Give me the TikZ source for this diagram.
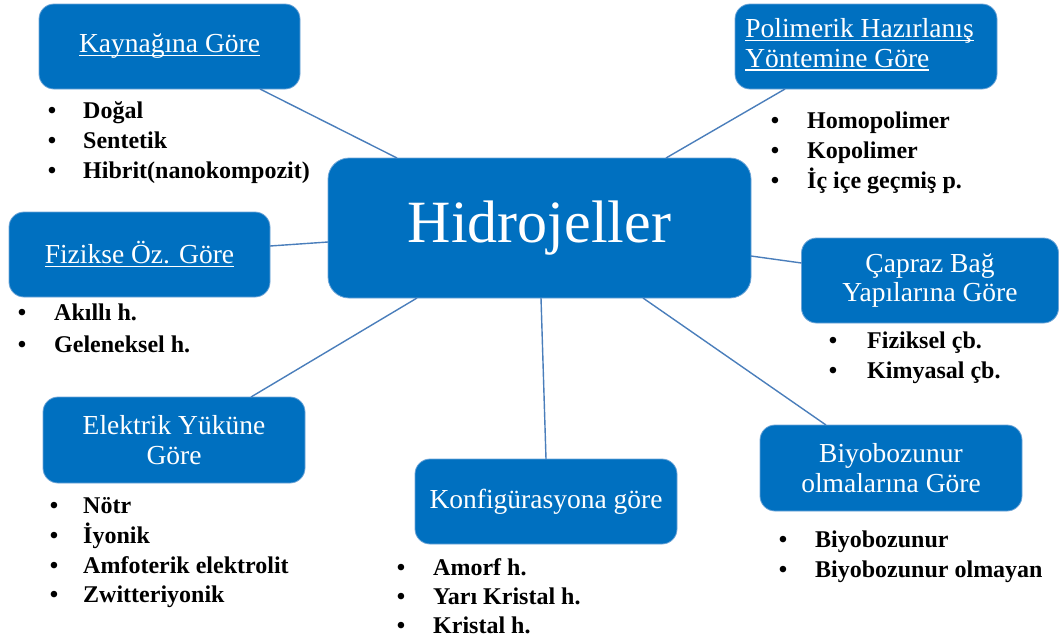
\documentclass[tikz,border=0pt]{standalone}
\usepackage{fontspec}
\setmainfont{Liberation Serif}
\definecolor{boxblue}{RGB}{0,112,192}
\definecolor{boxedge}{RGB}{110,165,215}
\definecolor{linkblue}{RGB}{74,126,187}
\newcommand\myul[1]{\setbox0\hbox{#1}\rlap{\rule[-3.5pt]{\wd0}{1.2pt}}\box0}
\newcommand\itm[5]{\node[itemtxt] (#1) at (#3,#4) {#5};\node[bullettxt] (#1b) at (#2,#4) {•};}
\tikzset{
  catbox/.style={rounded corners=15pt, fill=boxblue, draw=boxedge, line width=0.8pt,
    minimum width=261pt, minimum height=85pt, inner sep=0pt, outer sep=0pt,
    text=white, align=center, font=\fontsize{27.5}{29.5}\selectfont},
  conn/.style={draw=linkblue, line width=1.4pt},
  itemtxt/.style={anchor=base west, inner sep=0pt, font=\fontsize{24}{30}\selectfont\bfseries},
  bullettxt/.style={anchor=base, inner sep=0pt, font=\fontsize{24}{30}\selectfont\bfseries},
}
\begin{document}
\begin{tikzpicture}[x=1pt,y=-1pt]
\useasboundingbox (0,0) rectangle (1059,641);
% central
\node[catbox, rounded corners=21pt, minimum width=423pt, minimum height=140pt,
  font=\fontsize{60}{60}\selectfont] (hid) at (539.5,228) {Hidrojeller};
% categories
\node[catbox] (kay) at (169.5,46.5) {\myul{Kaynağına Göre}};
\node[catbox, minimum width=262pt] (pol) at (866,46.5)
  {\begin{tabular}{@{}l@{}}\myul{Polimerik Hazırlanış}\\\myul{Yöntemine Göre}\end{tabular}\hspace*{13pt}};
\node[catbox] (fiz) at (139.5,254.5) {\myul{Fizikse Öz. Göre}};
\node[catbox, minimum width=257pt] (cap) at (930,280.5) {Çapraz Bağ\\Yapılarına Göre};
\node[catbox, minimum width=262pt, minimum height=86pt] (biy) at (891,468) {Biyobozunur\\olmalarına Göre};
\node[catbox, minimum width=262pt, minimum height=86pt] (ele) at (174,440) {Elektrik Yüküne\\Göre};
\node[catbox, minimum width=262pt] (kon) at (546,501.5) {Konfigürasyona göre};
% connectors
\draw[conn] ([xshift=90.5pt]kay.south) -- ([xshift=-142.5pt]hid.north);
\draw[conn] ([xshift=-81pt]pol.south) -- ([xshift=126.5pt]hid.north);
\draw[conn] ([yshift=8.5pt]fiz.east) -- ([yshift=-14pt]hid.west);
\draw[conn] ([xshift=77pt]ele.north) -- ([xshift=-122.5pt]hid.south);
\draw[conn] (kon.north) -- ([xshift=1.5pt]hid.south);
\draw[conn] ([yshift=17.5pt]cap.west) -- ([yshift=-28pt]hid.east);
\draw[conn] ([xshift=-65pt]biy.north) -- ([xshift=103.5pt]hid.south);
% lists
\itm{k1}{52}{83}{118}{Doğal}
\itm{k2}{52}{83}{148}{Sentetik}
\itm{k3}{52}{83}{178}{Hibrit(nanokompozit)}
\itm{p1}{775}{807}{128}{Homopolimer}
\itm{p2}{775}{807}{158}{Kopolimer}
\itm{p3}{775}{807}{188}{İç içe geçmiş p.}
\itm{f1}{22}{54}{320}{Akıllı h.}
\itm{f2}{22}{54}{352}{Geleneksel h.}
\itm{c1}{833}{867}{348}{Fiziksel çb.}
\itm{c2}{833}{867}{378}{Kimyasal çb.}
\itm{b1}{783}{815}{547}{Biyobozunur}
\itm{b2}{783}{815}{577}{Biyobozunur olmayan}
\itm{e1}{54}{83}{513}{Nötr}
\itm{e2}{54}{83}{543}{İyonik}
\itm{e3}{54}{83}{573}{Amfoterik elektrolit}
\itm{e4}{54}{83}{602}{Zwitteriyonik}
\itm{o1}{401}{433}{575}{Amorf h.}
\itm{o2}{401}{433}{604}{Yarı Kristal h.}
\itm{o3}{401}{433}{633}{Kristal h.}
\end{tikzpicture}
\end{document}
